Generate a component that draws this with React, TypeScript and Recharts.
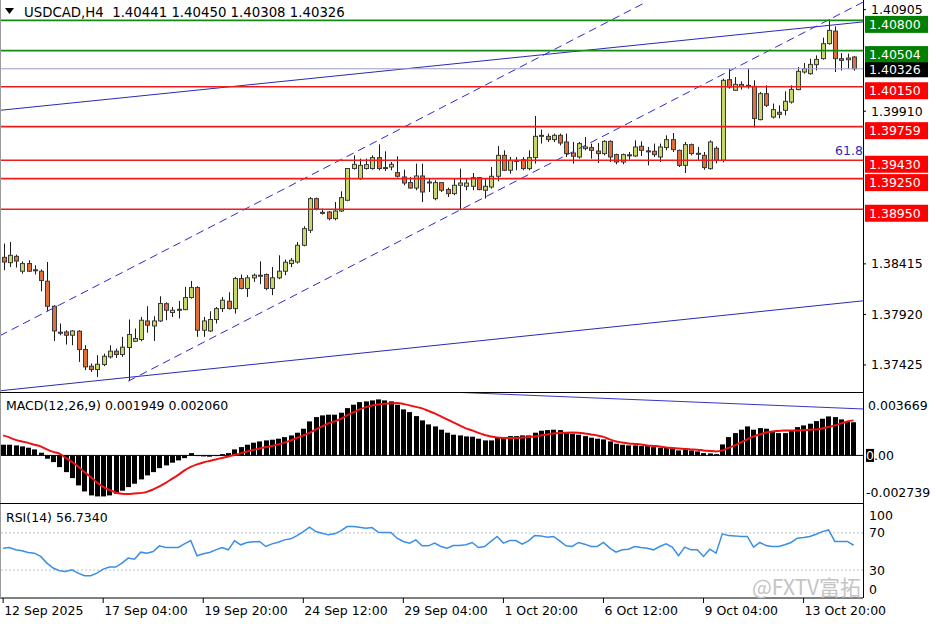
import React from "react";
import { Bar, ComposedChart, Line, ReferenceLine, XAxis, YAxis } from "recharts";

// ---- data (USDCAD H4) ----
const opens = [1.38479,1.38427,1.38489,1.38343,1.38418,1.38357,1.38343,1.38245,1.38000,1.37746,
  1.37748,1.37716,1.37755,1.37576,1.37413,1.37380,1.37429,1.37504,1.37560,1.37527,
  1.37596,1.37657,1.37674,1.37856,1.37807,1.37856,1.38025,1.37938,1.37970,1.37967,
  1.38085,1.38183,1.37765,1.37758,1.37870,1.37977,1.38049,1.37977,1.38272,1.38174,
  1.38278,1.38304,1.38311,1.38174,1.38278,1.38343,1.38418,1.38433,1.38597,1.38744,
  1.39054,1.38920,1.38923,1.38858,1.38933,1.39038,1.39349,1.39250,1.39349,1.39349,
  1.39456,1.39358,1.39364,1.39309,1.39266,1.39211,1.39158,1.39276,1.39217,1.39054,
  1.39211,1.39143,1.39103,1.39185,1.39175,1.39175,1.39260,1.39136,1.39168,1.39273,
  1.39478,1.39332,1.39429,1.39436,1.39348,1.39456,1.39674,1.39664,1.39632,1.39674,
  1.39609,1.39501,1.39462,1.39544,1.39554,1.39520,1.39495,1.39615,1.39485,1.39413,
  1.39483,1.39472,1.39567,1.39522,1.39518,1.39462,1.39554,1.39632,1.39527,1.39380,
  1.39583,1.39498,1.39478,1.39348,1.39547,1.39429,1.40219,1.40115,1.40173,1.40164,
  1.40154,1.39828,1.40082,1.39853,1.39900,1.39919,1.40000,1.40122,1.40294,1.40278,
  1.40366,1.40425,1.40572,1.40695,1.40425,1.40415,1.40441];
const highs = [1.38614,1.38629,1.38506,1.38440,1.38450,1.38401,1.38360,1.38433,1.38010,1.37831,
  1.37765,1.37765,1.37765,1.37618,1.37439,1.37520,1.37536,1.37618,1.37586,1.37700,
  1.37870,1.37782,1.37895,1.38000,1.37902,1.38098,1.38039,1.37993,1.38052,1.38189,
  1.38248,1.38196,1.37895,1.37951,1.37993,1.38091,1.38137,1.38288,1.38311,1.38304,
  1.38320,1.38440,1.38320,1.38384,1.38499,1.38457,1.38473,1.38629,1.38783,1.39070,
  1.39064,1.38956,1.38933,1.39021,1.39126,1.39354,1.39478,1.39446,1.39446,1.39478,
  1.39586,1.39518,1.39413,1.39469,1.39338,1.39266,1.39397,1.39397,1.39250,1.39234,
  1.39217,1.39162,1.39250,1.39348,1.39250,1.39305,1.39266,1.39250,1.39364,1.39569,
  1.39527,1.39462,1.39462,1.39462,1.39527,1.39863,1.39730,1.39691,1.39691,1.39691,
  1.39691,1.39609,1.39609,1.39658,1.39593,1.39599,1.39625,1.39625,1.39495,1.39495,
  1.39511,1.39625,1.39615,1.39560,1.39593,1.39593,1.39674,1.39697,1.39534,1.39609,
  1.39593,1.39560,1.39511,1.39625,1.39566,1.40229,1.40327,1.40245,1.40203,1.40327,
  1.40213,1.40098,1.40164,1.39985,1.39968,1.40105,1.40164,1.40343,1.40382,1.40425,
  1.40457,1.40631,1.40810,1.40741,1.40480,1.40474,1.40450];
const lows = [1.38353,1.38384,1.38379,1.38320,1.38336,1.38311,1.38147,1.37951,1.37660,1.37716,
  1.37625,1.37618,1.37455,1.37374,1.37357,1.37308,1.37413,1.37488,1.37494,1.37504,
  1.37266,1.37651,1.37657,1.37740,1.37660,1.37846,1.37863,1.37895,1.37880,1.37961,
  1.38075,1.37700,1.37700,1.37748,1.37831,1.37944,1.37968,1.37928,1.38164,1.38091,
  1.38239,1.38216,1.38157,1.38108,1.38265,1.38304,1.38384,1.38418,1.38587,1.38718,
  1.38940,1.38898,1.38842,1.38842,1.38923,1.39028,1.39338,1.39240,1.39338,1.39338,
  1.39332,1.39325,1.39332,1.39260,1.39185,1.39152,1.39136,1.39021,1.39119,1.39038,
  1.39119,1.39070,1.39087,1.38940,1.39136,1.39136,1.39136,1.39054,1.39152,1.39224,
  1.39325,1.39299,1.39332,1.39332,1.39332,1.39397,1.39593,1.39609,1.39609,1.39576,
  1.39462,1.39397,1.39446,1.39527,1.39446,1.39403,1.39478,1.39413,1.39390,1.39390,
  1.39436,1.39462,1.39472,1.39380,1.39462,1.39413,1.39527,1.39511,1.39364,1.39305,
  1.39478,1.39429,1.39338,1.39338,1.39399,1.39410,1.40131,1.40110,1.40122,1.40131,
  1.39750,1.39821,1.39951,1.39838,1.39841,1.39870,1.39985,1.40115,1.40278,1.40268,
  1.40310,1.40415,1.40562,1.40294,1.40310,1.40327,1.40308];
const closes = [1.38433,1.38499,1.38443,1.38418,1.38343,1.38348,1.38252,1.38000,1.37758,1.37736,
  1.37716,1.37758,1.37576,1.37406,1.37380,1.37432,1.37510,1.37560,1.37527,1.37599,
  1.37723,1.37684,1.37863,1.37814,1.37856,1.38027,1.37961,1.37961,1.37964,1.38085,
  1.38183,1.37765,1.37856,1.37870,1.37977,1.38059,1.37977,1.38272,1.38174,1.38278,
  1.38304,1.38299,1.38174,1.38278,1.38343,1.38431,1.38450,1.38597,1.38760,1.39054,
  1.38956,1.38911,1.38858,1.38933,1.39064,1.39349,1.39390,1.39380,1.39387,1.39456,
  1.39349,1.39351,1.39390,1.39273,1.39207,1.39158,1.39276,1.39119,1.39209,1.39211,
  1.39136,1.39103,1.39185,1.39207,1.39207,1.39260,1.39143,1.39175,1.39273,1.39478,
  1.39332,1.39429,1.39424,1.39348,1.39456,1.39664,1.39669,1.39632,1.39674,1.39599,
  1.39495,1.39469,1.39593,1.39560,1.39527,1.39495,1.39615,1.39462,1.39413,1.39485,
  1.39475,1.39560,1.39527,1.39514,1.39485,1.39560,1.39632,1.39534,1.39380,1.39583,
  1.39495,1.39492,1.39358,1.39609,1.39429,1.40213,1.40147,1.40173,1.40154,1.40158,
  1.39838,1.40082,1.39968,1.39926,1.39880,1.40007,1.40124,1.40301,1.40327,1.40369,
  1.40418,1.40572,1.40702,1.40425,1.40408,1.40431,1.40326];

const macdMain = [0.000629,0.000629,0.000588,0.000529,0.000453,0.000353,0.000159,-0.000194,-0.000394,-0.000688,
  -0.000982,-0.001335,-0.001764,-0.002117,-0.002352,-0.002411,-0.002411,-0.002352,-0.002252,-0.002076,
  -0.001864,-0.001664,-0.001411,-0.001176,-0.000982,-0.000747,-0.000588,-0.000429,-0.000294,-0.000159,
  0.000135,-0.000041,-0.000059,-0.000076,-0.000041,0.000076,0.000135,0.000353,0.000488,0.000629,
  0.000747,0.000823,0.000882,0.000923,0.000982,0.001076,0.001176,0.001335,0.00157,0.001999,
  0.002252,0.002352,0.002393,0.002393,0.002511,0.002781,0.002981,0.003134,0.003175,0.003234,
  0.003293,0.003234,0.003175,0.002981,0.002705,0.002546,0.002311,0.002058,0.001823,0.001705,
  0.001511,0.001335,0.001217,0.001176,0.001117,0.0011,0.000982,0.000882,0.000882,0.001076,
  0.001076,0.001135,0.001135,0.001176,0.001176,0.001335,0.001452,0.001488,0.001511,0.001488,
  0.00137,0.001276,0.001217,0.001135,0.001041,0.000982,0.000941,0.000823,0.000688,0.000629,
  0.000588,0.000588,0.000547,0.000547,0.000488,0.000453,0.000488,0.000429,0.000294,0.000335,
  0.000294,0.000235,0.000135,0.000118,0.000076,0.000647,0.001076,0.001311,0.001511,0.001705,
  0.001511,0.001605,0.00157,0.00137,0.001311,0.001311,0.001429,0.001664,0.001764,0.001864,
  0.002017,0.002158,0.002293,0.002252,0.002117,0.001999,0.001949];
const macdSignal = [0.001176,0.001058,0.000911,0.000823,0.000735,0.000629,0.000529,0.000353,0.000206,0.0001,
  -0.000147,-0.000382,-0.000647,-0.000982,-0.001264,-0.001588,-0.001852,-0.002029,-0.002176,-0.002252,
  -0.002264,-0.002234,-0.002217,-0.002146,-0.001999,-0.001823,-0.001617,-0.001382,-0.001147,-0.000882,
  -0.000676,-0.000529,-0.000412,-0.000323,-0.000235,-0.000147,-0.000059,0.000029,0.000118,0.000235,
  0.000323,0.000412,0.000488,0.000559,0.000647,0.000753,0.000882,0.001029,0.001176,0.001323,
  0.001529,0.001705,0.001882,0.001999,0.002146,0.002352,0.002528,0.002705,0.00284,0.00294,
  0.002999,0.00304,0.003058,0.003075,0.003028,0.00294,0.002852,0.002764,0.002617,0.00247,
  0.002293,0.002117,0.00194,0.001764,0.001588,0.00147,0.001323,0.001205,0.001117,0.001058,
  0.001029,0.001017,0.001017,0.001047,0.001076,0.001117,0.001176,0.001235,0.001294,0.001323,
  0.001335,0.001341,0.001335,0.001294,0.001235,0.001176,0.001088,0.000941,0.000823,0.000764,
  0.000706,0.000676,0.000647,0.000588,0.000559,0.000529,0.00047,0.000441,0.000412,0.000382,
  0.000353,0.000335,0.000294,0.000265,0.000235,0.000294,0.000441,0.000588,0.000764,0.000941,
  0.001117,0.001235,0.001352,0.001411,0.001441,0.00147,0.00147,0.00147,0.001488,0.001511,
  0.001529,0.001588,0.001676,0.001764,0.001882,0.001999,0.00206];
const rsiValues = [53.6,54.3,51.8,50.7,49,48.2,44.7,37.5,32.2,29.3,
  28.6,30.4,26.8,24,24,26.8,31.1,33.2,33.2,37.5,
  42.9,41.8,49.3,48.2,50,56.1,54.3,54.3,54.3,58.2,
  61.8,45.4,47.5,49,51.8,54.3,51.8,61.5,57.2,59.7,
  60.4,60.8,55.4,58.2,60,62.5,63.6,67.1,71.4,76.1,
  71.4,69.7,67.9,69,72.2,76.8,76.8,76.1,75,75.7,
  70.7,70.4,70.4,64.3,60.8,59,62.5,56.1,56.1,59,
  55.4,53.6,56.5,56.5,57.2,59.7,54.3,55.4,60.8,66.2,
  59,61.8,61.8,57.9,61.5,67.1,66.8,65.4,66.2,61.5,
  56.1,55.4,59.7,57.9,55.4,55.4,59.7,53.6,49.3,51.8,
  52.5,55.4,54.3,53.6,51.8,55.4,58.2,54.7,45.4,54.7,
  51.8,51.8,44.7,52.5,48.2,69,67.1,66.8,66.2,66.2,
  54.7,59.7,56.5,55.4,55.4,57.2,59.7,64.3,65,66.2,
  68.6,71.4,73.2,60.8,60.8,60.8,56.734];

const timeTicks = [0, 16, 32, 48, 64, 80, 96, 112, 128];
const timeLabels = ["12 Sep 2025", "17 Sep 04:00", "19 Sep 20:00", "24 Sep 12:00", "29 Sep 04:00",
  "1 Oct 20:00", "6 Oct 12:00", "9 Oct 04:00", "13 Oct 20:00"];
const priceTicks = [1.40905, 1.3991, 1.38415, 1.3792, 1.37425];
const levelPrices = [1.408, 1.40504, 1.40326, 1.4015, 1.39759, 1.3943, 1.3925, 1.3895];
const levelKinds = ["green", "green", "bid", "red", "red", "red", "red", "red"];
const macdTicks = [0.003669, 0, -0.002739];
const rsiTicks = [100, 70, 30, 0];

// trend lines drawn on the chart: [barIndex, price]
const channelUpper = [[-0.5, 1.37712], [130, 1.41839]];
const channelLower = [[20, 1.37266], [137.5, 1.40979]];
const trendUpper = [[-0.5, 1.39919], [137.5, 1.40785]];
const trendLower = [[-0.5, 1.37172], [137.5, 1.38053]];
const macdTrend = [[40, 0.0042], [137.5, 0.00273]];

const rows = opens.map((o, i) => ({
  i,
  o,
  h: highs[i],
  l: lows[i],
  c: closes[i],
  range: [lows[i], highs[i]],
  macd: macdMain[i],
  signal: macdSignal[i],
  rsi: rsiValues[i],
}));

const FONT = "'DejaVu Sans', Tahoma, sans-serif";
const PLOT_W = 863;
const AXIS_W = 936 - PLOT_W;
const X_DOMAIN = [-0.5, 137.5];

function Candle(props: any) {
  const { x, y, width, height, payload } = props;
  const { o, h, l, c } = payload;
  const top = Math.min(y, y + height);
  const hh = Math.abs(height);
  const cx = Math.round(x + width / 2) + 0.5;
  const k = h > l ? hh / (h - l) : 0;
  const yo = top + (h - o) * k;
  const yc = top + (h - c) * k;
  const bTop = Math.min(yo, yc);
  const bH = Math.max(Math.abs(yo - yc), 1);
  const bull = c >= o;
  return (
    <g>
      <line x1={cx} x2={cx} y1={top} y2={top + hh} stroke="#1a1a1a" strokeWidth={1} />
      <rect x={cx - 2} y={bTop} width={4} height={bH} fill={bull ? "#c8d868" : "#e0703a"} stroke="#3a3a3a" strokeWidth={1} />
    </g>
  );
}

function MacdBar(props: any) {
  const { x, y, width, height } = props;
  const top = Math.min(y, y + height);
  const hh = Math.max(Math.abs(height), 0.6);
  const cx = x + width / 2;
  return <rect x={Math.round(cx - 2.5)} y={top} width={5} height={hh} fill="#000" />;
}

function levelTag(price: number, kind: string) {
  return (p: any) => {
    const vb = p.viewBox || {};
    const y = vb.y;
    const x = vb.x + vb.width;
    const bg = kind === "green" ? "#008000" : kind === "bid" ? "#000" : "#ff0000";
    const top = kind === "bid" ? y - 6.5 : y - 4.5;
    const hgt = kind === "bid" ? 15 : 17;
    return (
      <g>
        <rect x={x + 2} y={top} width={63} height={hgt} fill={bg} />
        <text x={x + 6} y={top + hgt / 2} dy="0.36em" fill="#fff" fontSize={12.5} fontFamily={FONT}>
          {price.toFixed(5)}
        </text>
      </g>
    );
  };
}

const levelColor = (k: string) => (k === "green" ? "#138a13" : k === "bid" ? "#9c9cc8" : "#ee1c1c");

export default function App() {
  const last = rows[rows.length - 1];
  return (
    <div style={{ position: "absolute", left: 0, top: 0, width: 936, height: 624, background: "#fff", fontFamily: FONT }}>
      {/* price panel */}
      <div style={{ position: "absolute", left: 0, top: 0 }}>
        <ComposedChart width={936} height={393} data={rows} margin={{ top: 2, right: 0, bottom: 1, left: 0 }}>
          <XAxis dataKey="i" type="number" domain={X_DOMAIN} hide allowDataOverflow />
          <YAxis
            orientation="right"
            width={AXIS_W}
            domain={[1.3716, 1.4098]}
            allowDataOverflow
            ticks={priceTicks}
            interval={0}
            axisLine={false}
            tickSize={3}
            tickLine={{ stroke: "#000" }}
            tick={(p: any) => (
              <text x={p.x + 3} y={p.y} dy="0.36em" fontSize={12.5} fill="#000" fontFamily={FONT}>
                {Number(p.payload.value).toFixed(5)}
              </text>
            )}
          />
          <ReferenceLine segment={trendUpper.map(([x, y]) => ({ x, y }))} stroke="#2a2ab8" strokeWidth={1} ifOverflow="hidden" />
          <ReferenceLine segment={trendLower.map(([x, y]) => ({ x, y }))} stroke="#2a2ab8" strokeWidth={1} ifOverflow="hidden" />
          <ReferenceLine segment={channelUpper.map(([x, y]) => ({ x, y }))} stroke="#2a2ad0" strokeWidth={1} strokeDasharray="8 5" ifOverflow="hidden" />
          <ReferenceLine segment={channelLower.map(([x, y]) => ({ x, y }))} stroke="#2a2ad0" strokeWidth={1} strokeDasharray="8 5" ifOverflow="hidden" />
          {levelPrices.map((lp, k) => (
            <ReferenceLine
              key={lp}
              y={lp}
              stroke={levelColor(levelKinds[k])}
              strokeWidth={levelKinds[k] === "bid" ? 1 : 1.6}
              label={levelTag(lp, levelKinds[k])}
            />
          ))}
          <Bar dataKey="range" barSize={5} shape={<Candle />} isAnimationActive={false} />
        </ComposedChart>
      </div>

      {/* MACD panel */}
      <div style={{ position: "absolute", left: 0, top: 393 }}>
        <ComposedChart width={936} height={109} data={rows} margin={{ top: 0, right: 0, bottom: 0, left: 0 }}>
          <XAxis dataKey="i" type="number" domain={X_DOMAIN} hide allowDataOverflow />
          <YAxis
            orientation="right"
            width={AXIS_W}
            domain={[-0.002739, 0.003669]}
            allowDataOverflow
            ticks={macdTicks}
            interval={0}
            axisLine={false}
            tickLine={false}
            tick={(p: any) => {
              const v = Number(p.payload.value);
              if (v === 0) {
                return (
                  <g>
                    <rect x={866} y={p.y - 6.5} width={8} height={13} fill="#000" />
                    <text x={866} y={p.y} dy="0.36em" fontSize={12.5} fontFamily={FONT}>
                      <tspan fill="#fff">0</tspan>
                      <tspan fill="#000">.00</tspan>
                    </text>
                  </g>
                );
              }
              const dy = v > 0 ? 12 : -10;
              return (
                <text x={v < 0 ? 866 : 868} y={p.y + dy} dy="0.36em" fontSize={12.5} fill="#000" fontFamily={FONT}>
                  {v.toFixed(6)}
                </text>
              );
            }}
          />
          <ReferenceLine y={0} stroke="#000" strokeWidth={1} />
          <Bar dataKey="macd" barSize={5} shape={<MacdBar />} isAnimationActive={false} />
          <Line dataKey="signal" type="monotone" stroke="#ee1111" strokeWidth={2} dot={false} isAnimationActive={false} />
          <ReferenceLine segment={macdTrend.map(([x, y]) => ({ x, y }))} stroke="#3434c8" strokeWidth={1} ifOverflow="hidden" />
        </ComposedChart>
      </div>

      {/* RSI panel + time axis */}
      <div style={{ position: "absolute", left: 0, top: 505 }}>
        <ComposedChart width={936} height={119} data={rows} margin={{ top: 0, right: 0, bottom: 0, left: 0 }}>
          <XAxis
            dataKey="i"
            type="number"
            domain={X_DOMAIN}
            allowDataOverflow
            ticks={timeTicks}
            interval={0}
            height={26}
            tickSize={5}
            axisLine={{ stroke: "#000" }}
            tickLine={{ stroke: "#000" }}
            tick={(p: any) => (
              <text x={p.x + 1} y={110} fontSize={12.5} fill="#000" fontFamily={FONT}>
                {timeLabels[timeTicks.indexOf(Number(p.payload.value))]}
              </text>
            )}
          />
          <YAxis
            orientation="right"
            width={AXIS_W}
            domain={[0, 100]}
            allowDataOverflow
            ticks={rsiTicks}
            interval={0}
            axisLine={false}
            tickLine={false}
            tick={(p: any) => {
              const v = Number(p.payload.value);
              const dy = v === 100 ? 10 : v === 0 ? -9 : 0;
              return (
                <text x={869} y={p.y + dy} dy="0.36em" fontSize={12.5} fill="#000" fontFamily={FONT}>
                  {v}
                </text>
              );
            }}
          />
          <ReferenceLine y={70} stroke="#b8c0d0" strokeDasharray="2 2" />
          <ReferenceLine y={30} stroke="#b8c0d0" strokeDasharray="2 2" />
          <Line dataKey="rsi" type="linear" stroke="#3a8ee6" strokeWidth={1.5} dot={false} isAnimationActive={false} />
        </ComposedChart>
      </div>

      {/* frame and captions */}
      <svg width={936} height={624} style={{ position: "absolute", left: 0, top: 0, pointerEvents: "none" }}>
        <line x1={0.5} x2={0.5} y1={0} y2={598} stroke="#9a9a9a" />
        <line x1={PLOT_W + 0.5} x2={PLOT_W + 0.5} y1={0} y2={598} stroke="#000" />
        <line x1={0} x2={PLOT_W + 1} y1={392.5} y2={392.5} stroke="#000" />
        <line x1={0} x2={PLOT_W + 1} y1={503.5} y2={503.5} stroke="#000" />
        <polygon points="5,8 14,8 9.5,14" fill="#000" />
        <text x={24} y={17} fontSize={13.3} fill="#000" fontFamily={FONT} style={{ whiteSpace: "pre" }}>
          {`USDCAD,H4  ${last.o.toFixed(5)} ${last.h.toFixed(5)} ${last.l.toFixed(5)} ${last.c.toFixed(5)}`}
        </text>
        <text x={835} y={155} fontSize={12.5} fill="#2a2ab8" fontFamily={FONT}>61.8</text>
        <text x={6} y={410} fontSize={12.5} fill="#000" fontFamily={FONT}>
          {`MACD(12,26,9) ${last.macd.toFixed(6)} ${last.signal.toFixed(6)}`}
        </text>
        <text x={6} y={522} fontSize={12.5} fill="#000" fontFamily={FONT}>
          {`RSI(14) ${last.rsi.toFixed(4)}`}
        </text>
        <text x={752} y={595} fontSize={21} fill="#c4c4c4" fontFamily="'Noto Sans CJK SC', 'DejaVu Sans', sans-serif">
          @FXTV富拓
        </text>
      </svg>
    </div>
  );
}
